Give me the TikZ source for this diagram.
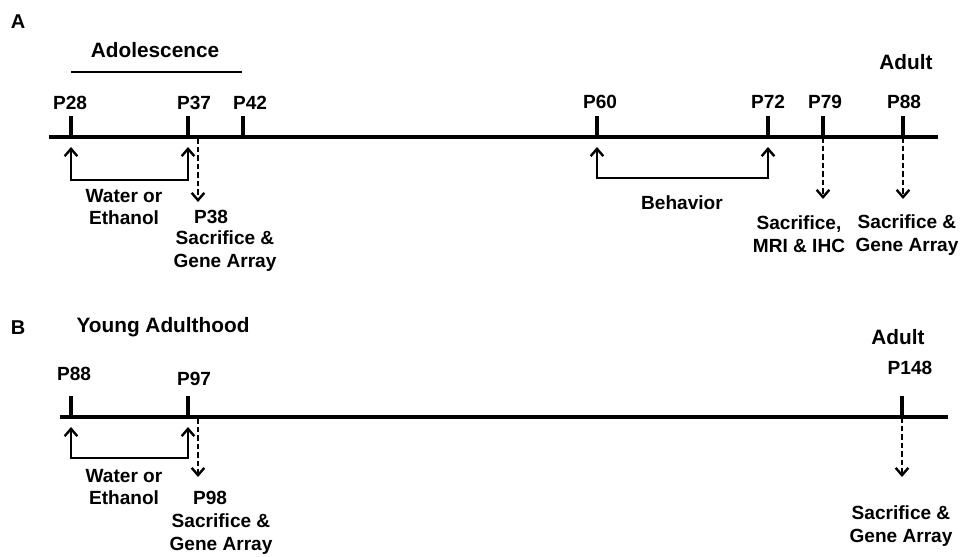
\documentclass[tikz,border=0pt]{standalone}
\usepackage{fontspec}
\setmainfont{Liberation Sans}
\usetikzlibrary{arrows.meta}
\begin{document}
\begin{tikzpicture}[x=0.75pt,y=-0.75pt,
  lbl/.style={font=\fontsize{14.3}{17}\selectfont\bfseries, inner sep=0pt, text height=10.3pt, text depth=0pt},
  multi/.style={font=\fontsize{14.3}{17}\selectfont\bfseries, inner sep=0pt, align=center},
  head/.style={font=\fontsize{15.6}{18}\selectfont\bfseries, inner sep=0pt, text height=11.2pt, text depth=0pt},
  panel/.style={font=\fontsize{15}{18}\selectfont\bfseries, inner sep=0pt, text height=10.8pt, text depth=0pt},
  axisline/.style={line width=2.3pt},
  tickline/.style={line width=2.3pt},
  overline/.style={line width=1.6pt},
  bracket/.style={line width=1.6pt, {Straight Barb[length=5.5pt,width=9.5pt,line width=1.8pt]}-{Straight Barb[length=5.5pt,width=9.5pt,line width=1.8pt]}},
  dasharrow/.style={line width=1.6pt, dash pattern=on 4.2pt off 2.2pt, -{Straight Barb[length=5.5pt,width=9.5pt,line width=1.8pt]}}
]
\useasboundingbox (0,0) rectangle (968,557);

% ---------------- Panel A ----------------
\node[panel] (A) at (18,21) {A};
\node[head] (adol) at (155,50) {Adolescence};
\coordinate (adolL) at (71,72);
\coordinate (adolR) at (242,72);
\draw[overline] (adolL) -- (adolR);
\node[head] (adultA) at (906,62) {Adult};

\coordinate (aS) at (49,137);
\coordinate (aE) at (938,137);
\draw[axisline] (aS) -- (aE);

\foreach \n/\x in {28/71,37/188,42/243,60/597,72/768,79/823,88/903}{
  \coordinate (a\n) at (\x,137);
  \coordinate (at\n) at (\x,116);
  \draw[tickline] (at\n) -- (a\n);
}
\node[lbl] (lP28) at (70,103) {P28};
\node[lbl] (lP37) at (194,103) {P37};
\node[lbl] (lP42) at (250,103) {P42};
\node[lbl] (lP60) at (600,102) {P60};
\node[lbl] (lP72) at (768,102) {P72};
\node[lbl] (lP79) at (825,102) {P79};
\node[lbl] (lP88) at (904,102) {P88};

% water/ethanol bracket A
\coordinate (wA1) at (71,147);
\coordinate (wA2) at (188,147);
\coordinate (wA1b) at (71,180);
\coordinate (wA2b) at (188,180);
\draw[bracket] (wA1) -- (wA1b) -- (wA2b) -- (wA2);
\node[multi] (weA) at (124,207) {Water or\\Ethanol};

% dashed P38
\coordinate (dA38) at (198,138);
\coordinate (dA38e) at (198,202);
\draw[dasharrow] (dA38) -- (dA38e);
\node[lbl] (lP38) at (211,217) {P38};
\node[multi] (sgA1) at (225,251) {Sacrifice \&\\Gene Array};

% behavior bracket
\coordinate (bA1) at (597,147);
\coordinate (bA2) at (768,147);
\coordinate (bA1b) at (597,178);
\coordinate (bA2b) at (768,178);
\draw[bracket] (bA1) -- (bA1b) -- (bA2b) -- (bA2);
\node[lbl] (beh) at (682,203) {Behavior};

% dashed P79, P88
\coordinate (dA79e) at (823,199);
\coordinate (dA88e) at (903,199);
\draw[dasharrow] (a79) -- (dA79e);
\draw[dasharrow] (a88) -- (dA88e);
\node[multi] (smri) at (799,234) {Sacrifice,\\MRI \& IHC};
\node[multi] (sgA2) at (907,235) {Sacrifice \&\\Gene Array};

% ---------------- Panel B ----------------
\node[panel] (B) at (18,327) {B};
\node[head] (young) at (163,325) {Young Adulthood};
\node[head] (adultB) at (898,337) {Adult};

\coordinate (bS) at (60,417);
\coordinate (bE) at (948,417);
\draw[axisline] (bS) -- (bE);

\foreach \n/\x in {88/71,97/188,148/902}{
  \coordinate (b\n) at (\x,417);
  \coordinate (bt\n) at (\x,396);
  \draw[tickline] (bt\n) -- (b\n);
}
\node[lbl] (lbP88) at (74,374) {P88};
\node[lbl] (lbP97) at (194,379) {P97};
\node[lbl] (lbP148) at (910,368) {P148};

% water/ethanol bracket B
\coordinate (wB1) at (71,427);
\coordinate (wB2) at (188,427);
\coordinate (wB1b) at (71,458);
\coordinate (wB2b) at (188,458);
\draw[bracket] (wB1) -- (wB1b) -- (wB2b) -- (wB2);
\node[multi] (weB) at (124,487) {Water or\\Ethanol};

% dashed P98
\coordinate (dB98) at (198,418);
\coordinate (dB98e) at (198,477);
\draw[dasharrow] (dB98) -- (dB98e);
\node[lbl] (lP98) at (210,498) {P98};
\node[multi] (sgB1) at (221,534) {Sacrifice \&\\Gene Array};

% dashed P148
\coordinate (dB148e) at (902,477);
\draw[dasharrow] (b148) -- (dB148e);
\node[multi] (sgB2) at (901,526) {Sacrifice \&\\Gene Array};
\end{tikzpicture}
\end{document}
